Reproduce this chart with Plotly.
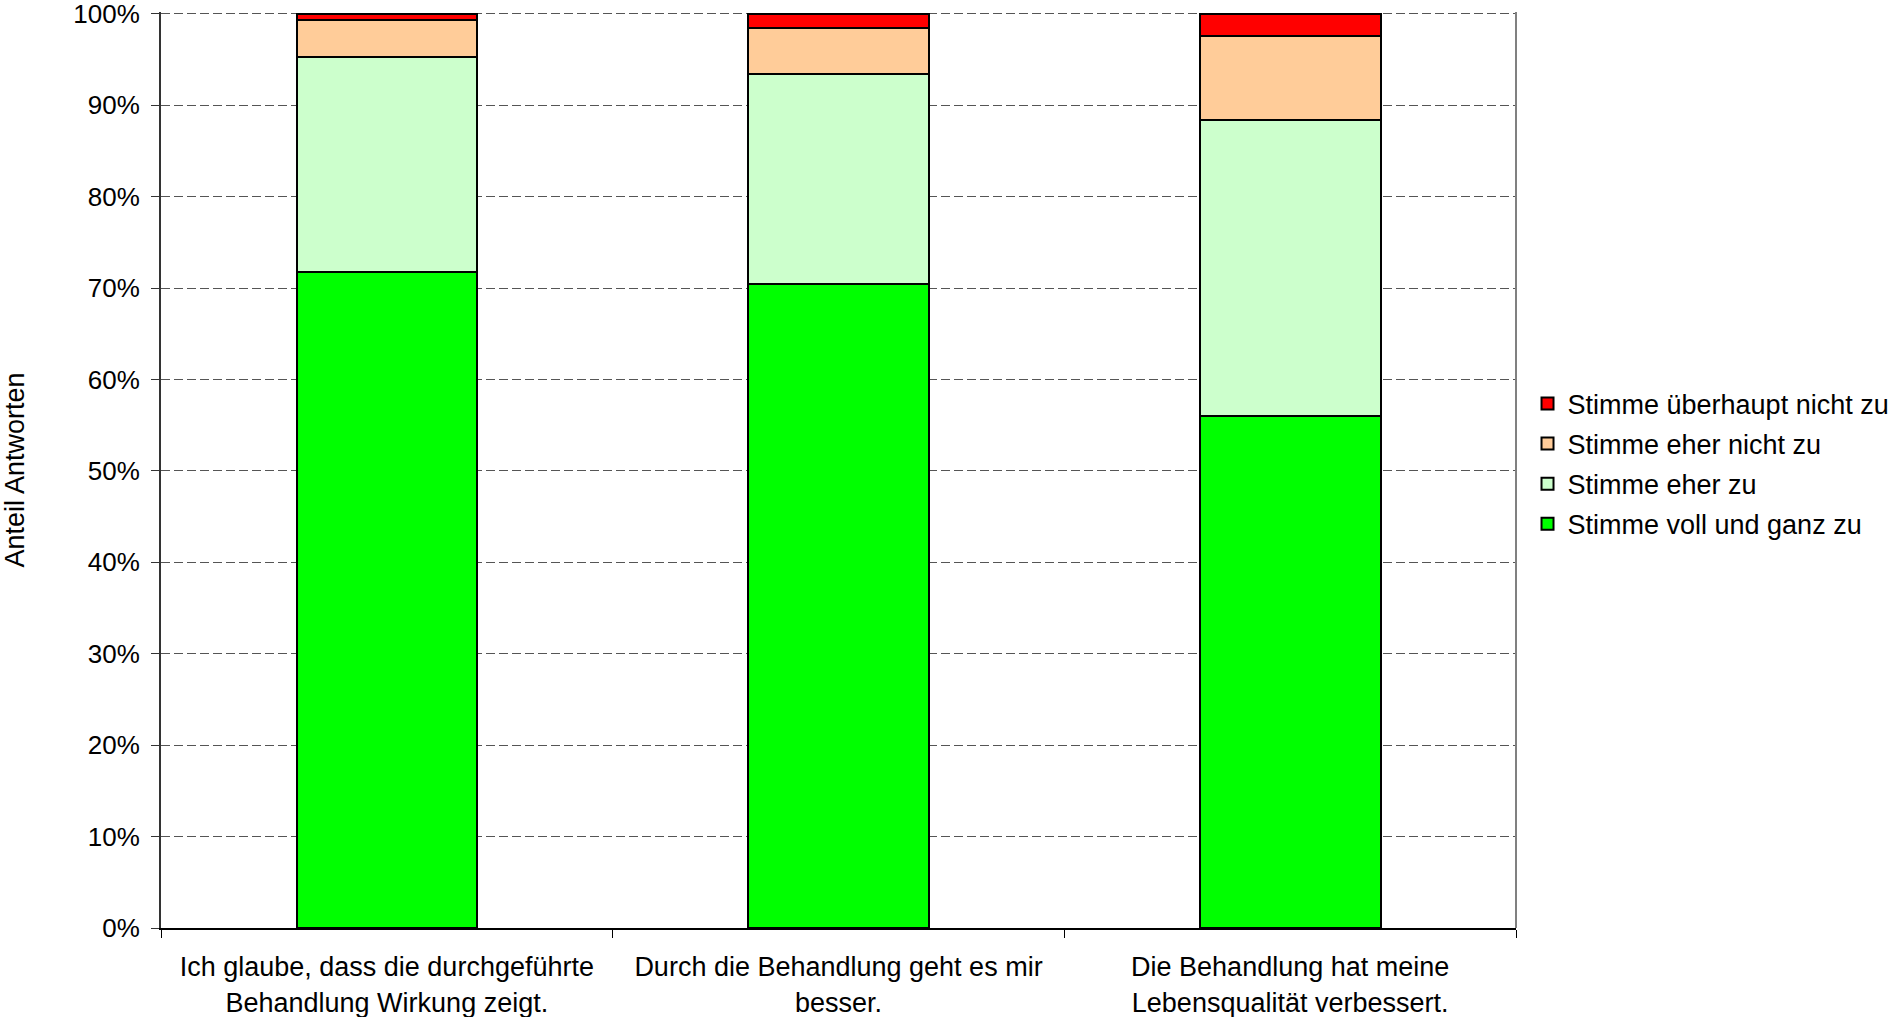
import plotly.graph_objects as go

categories = [
    "Ich glaube, dass die durchgeführte<br>Behandlung Wirkung zeigt.",
    "Durch die Behandlung geht es mir<br>besser.",
    "Die Behandlung hat meine<br>Lebensqualität verbessert.",
]
voll_und_ganz = [71.8, 70.5, 56.0]
eher_zu = [23.5, 22.9, 32.4]
eher_nicht = [4.0, 5.1, 9.2]
ueberhaupt_nicht = [0.7, 1.5, 2.4]

series_names = [
    "Stimme voll und ganz zu",
    "Stimme eher zu",
    "Stimme eher nicht zu",
    "Stimme überhaupt nicht zu",
]
series_values = [voll_und_ganz, eher_zu, eher_nicht, ueberhaupt_nicht]
series_colors = ["#00FF00", "#CCFFCC", "#FFCC99", "#FF0000"]
legend_ranks = [4, 3, 2, 1]

y_ticks = list(range(0, 101, 10))
y_ticklabels = [f"{v}%" for v in y_ticks]

FONT = "Arial, 'Liberation Sans', sans-serif"

fig = go.Figure()
for i, (name, vals, col, rk) in enumerate(zip(series_names, series_values, series_colors, legend_ranks)):
    fig.add_trace(go.Bar(
        x=categories, y=vals, name=name, legendgroup=f"g{i}", legendrank=rk,
        marker=dict(color=col, line=dict(color="#000000", width=2)),
    ))

fig.update_layout(
    width=1893, height=1017,
    barmode="stack", bargap=0.6,
    paper_bgcolor="white", plot_bgcolor="white",
    font=dict(family=FONT, size=27, color="#000000"),
    margin=dict(l=161, r=377, t=12, b=89, autoexpand=False),
    legend=dict(
        x=1.0085, xanchor="left", y=0.5066, yanchor="middle",
        font=dict(size=27, family=FONT, color="#000000"),
        tracegroupgap=2, itemwidth=30, traceorder="grouped",
        bgcolor="rgba(0,0,0,0)",
    ),
    showlegend=True,
)

fig.update_xaxes(
    showline=True, linecolor="#000000", linewidth=2,
    ticks="outside", tickson="boundaries", ticklen=8, tickcolor="#000000", tickwidth=1,
    tickfont=dict(size=27, family=FONT, color="#000000"),
    ticklabelstandoff=14,
    showgrid=False, automargin=False,
)
fig.update_yaxes(
    range=[0, 100.2], tickvals=y_ticks, ticktext=y_ticklabels,
    showline=True, linecolor="#333333", linewidth=2,
    ticks="outside", ticklen=8, tickcolor="#333333", tickwidth=1,
    tickfont=dict(size=26, family=FONT, color="#000000"),
    ticklabelstandoff=6, ticklabeloverflow="allow",
    showgrid=True, gridcolor="#555555", gridwidth=1, griddash="9px,4px",
    zeroline=False,
    title=dict(text="Anteil Antworten", font=dict(size=27, family=FONT, color="#000000"), standoff=56),
    automargin=False,
)

fig.add_shape(type="line", xref="paper", yref="paper", x0=1, x1=1, y0=0, y1=1,
              line=dict(color="#808080", width=2))

fig.write_html("out.html", post_script="document.body.style.margin='0';",
               config={"displayModeBar": False})
